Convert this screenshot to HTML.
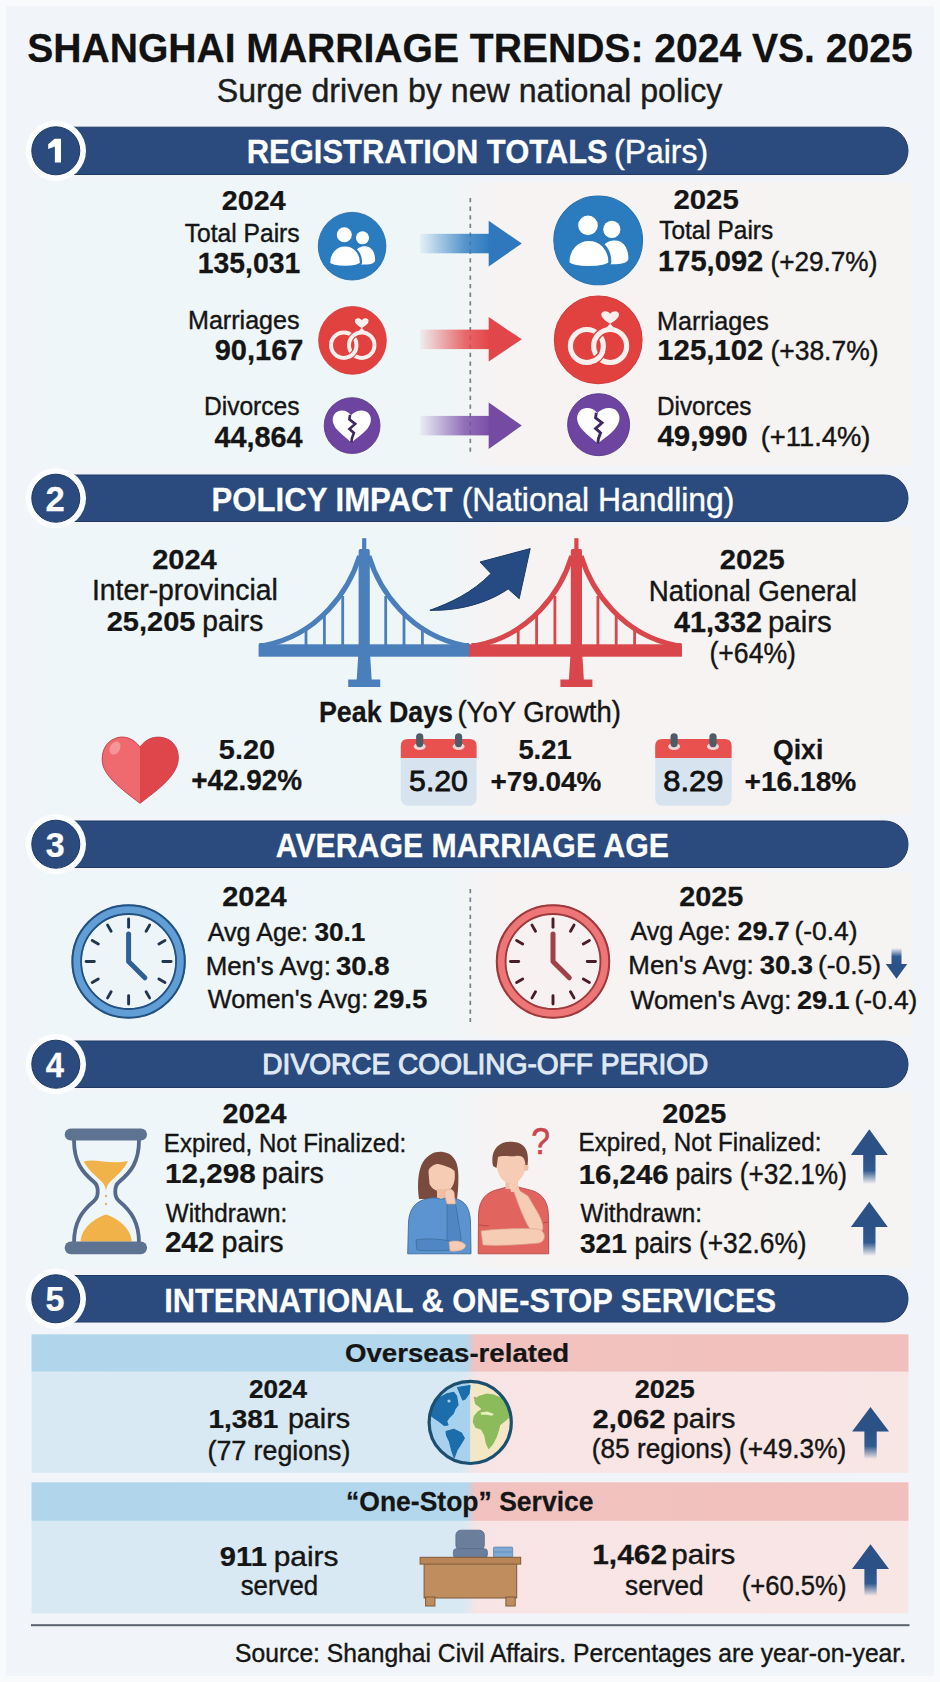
<!DOCTYPE html>
<html><head><meta charset="utf-8"><title>Shanghai Marriage Trends 2024 vs 2025</title>
<style>
html,body{margin:0;padding:0;background:#f1f5f8;}
body{width:940px;height:1682px;overflow:hidden;font-family:"Liberation Sans",sans-serif;}
svg{display:block;}
svg text{font-family:"Liberation Sans",sans-serif;white-space:pre;}
</style></head><body>
<svg width="940" height="1682" viewBox="0 0 940 1682">
<rect x="0" y="0" width="940" height="1682" fill="#f8fafc"/>
<rect x="6" y="6" width="928" height="1670" fill="#f1f5f9"/>
<defs>
<linearGradient id="pg" x1="0" x2="1" y1="0" y2="0">
 <stop offset="0" stop-color="#eef6f9"/><stop offset="0.47" stop-color="#eff6f8"/>
 <stop offset="0.53" stop-color="#f7f3f3"/><stop offset="1" stop-color="#f6f3f3"/>
</linearGradient>
<linearGradient id="ag1" x1="0" x2="1" y1="0" y2="0">
 <stop offset="0" stop-color="#2f7cc0" stop-opacity="0.05"/><stop offset="0.3" stop-color="#2f7cc0" stop-opacity="0.4"/><stop offset="0.65" stop-color="#2f7cc0" stop-opacity="0.8"/><stop offset="1" stop-color="#2f7cc0"/>
</linearGradient>
<linearGradient id="ag2" x1="0" x2="1" y1="0" y2="0">
 <stop offset="0" stop-color="#e4474a" stop-opacity="0.05"/><stop offset="0.3" stop-color="#e4474a" stop-opacity="0.4"/><stop offset="0.65" stop-color="#e4474a" stop-opacity="0.8"/><stop offset="1" stop-color="#e4474a"/>
</linearGradient>
<linearGradient id="ag3" x1="0" x2="1" y1="0" y2="0">
 <stop offset="0" stop-color="#7a4ea8" stop-opacity="0.05"/><stop offset="0.3" stop-color="#7a4ea8" stop-opacity="0.4"/><stop offset="0.65" stop-color="#7a4ea8" stop-opacity="0.8"/><stop offset="1" stop-color="#7a4ea8"/>
</linearGradient>
<linearGradient id="upg" x1="0" x2="0" y1="0" y2="1">
 <stop offset="0" stop-color="#2b5187"/><stop offset="0.55" stop-color="#2f5a92"/><stop offset="1" stop-color="#2f5a92" stop-opacity="0"/>
</linearGradient>
<linearGradient id="dng" x1="0" x2="0" y1="1" y2="0">
 <stop offset="0" stop-color="#2b5187"/><stop offset="0.5" stop-color="#2f5a92"/><stop offset="1" stop-color="#2f5a92" stop-opacity="0"/>
</linearGradient>
<linearGradient id="hdr" x1="0" x2="1" y1="0" y2="0">
 <stop offset="0" stop-color="#b1d6ec"/><stop offset="0.496" stop-color="#b3d7ec"/>
 <stop offset="0.506" stop-color="#f1c2bf"/><stop offset="1" stop-color="#f1c0bd"/>
</linearGradient>
<linearGradient id="bdy" x1="0" x2="1" y1="0" y2="0">
 <stop offset="0" stop-color="#d8e9f4"/><stop offset="0.492" stop-color="#d9e9f4"/>
 <stop offset="0.508" stop-color="#f8e4e4"/><stop offset="1" stop-color="#f8e6e5"/>
</linearGradient>
</defs>
<rect x="34" y="182" width="878" height="284" rx="6" fill="url(#pg)"/>
<rect x="34" y="526" width="878" height="289" rx="6" fill="url(#pg)"/>
<rect x="34" y="872" width="878" height="164" rx="6" fill="url(#pg)"/>
<rect x="34" y="1092" width="878" height="176" rx="6" fill="url(#pg)"/>
<path d="M56 127.20 L884.35 127.20 A23.65 23.65 0 0 1 884.35 174.50 L56 174.50 Z" fill="#2b4b7e" stroke="#1f3963" stroke-width="1"/>
<circle cx="55.8" cy="150.8" r="30.2" fill="#fbfdfe"/>
<circle cx="55.8" cy="150.8" r="24" fill="#2b4b7e" stroke="#1f3963" stroke-width="1"/>
<path d="M56 475.00 L884.75 475.00 A23.25 23.25 0 0 1 884.75 521.50 L56 521.50 Z" fill="#2b4b7e" stroke="#1f3963" stroke-width="1"/>
<circle cx="55.8" cy="498.2" r="30.2" fill="#fbfdfe"/>
<circle cx="55.8" cy="498.2" r="24" fill="#2b4b7e" stroke="#1f3963" stroke-width="1"/>
<path d="M56 821.00 L884.75 821.00 A23.25 23.25 0 0 1 884.75 867.50 L56 867.50 Z" fill="#2b4b7e" stroke="#1f3963" stroke-width="1"/>
<circle cx="55.8" cy="844.2" r="30.2" fill="#fbfdfe"/>
<circle cx="55.8" cy="844.2" r="24" fill="#2b4b7e" stroke="#1f3963" stroke-width="1"/>
<path d="M56 1041.00 L884.75 1041.00 A23.25 23.25 0 0 1 884.75 1087.50 L56 1087.50 Z" fill="#2b4b7e" stroke="#1f3963" stroke-width="1"/>
<circle cx="55.8" cy="1064.2" r="30.2" fill="#fbfdfe"/>
<circle cx="55.8" cy="1064.2" r="24" fill="#2b4b7e" stroke="#1f3963" stroke-width="1"/>
<path d="M56 1275.50 L884.75 1275.50 A23.25 23.25 0 0 1 884.75 1322.00 L56 1322.00 Z" fill="#2b4b7e" stroke="#1f3963" stroke-width="1"/>
<circle cx="55.8" cy="1298.8" r="30.2" fill="#fbfdfe"/>
<circle cx="55.8" cy="1298.8" r="24" fill="#2b4b7e" stroke="#1f3963" stroke-width="1"/>
<path d="M54.6 138.8 L61 138.8 L61 162.5 L54.9 162.5 L54.9 146.6 L48.2 149 L48.2 144.2 Z" fill="#ffffff"/>
<line x1="470.3" y1="198" x2="470.3" y2="452" stroke="#76838f" stroke-width="1.7" stroke-dasharray="4.3 4.3"/>
<rect x="420.0" y="233.8" width="69.2" height="19.5" fill="url(#ag1)"/>
<path d="M488.7 220.8 L521.8 243.6 L488.7 266.4 Z" fill="#2f78bd"/>
<rect x="420.0" y="329.6" width="69.2" height="19.5" fill="url(#ag2)"/>
<path d="M488.7 317.1 L521.8 339.3 L488.7 361.6 Z" fill="#e0464a"/>
<rect x="420.0" y="415.9" width="69.2" height="19.5" fill="url(#ag3)"/>
<path d="M488.7 402.4 L521.8 425.6 L488.7 448.9 Z" fill="#744aa3"/>
<defs>
<g id="ppl">
 <circle cx="0" cy="0" r="49.5" fill="#2b7bbf" stroke="#256fae" stroke-width="1.2"/>
 <circle cx="15.2" cy="-12.3" r="9.6" fill="#fff"/>
 <path d="M4 26.6 L4 8 C8 2 13 0 19 0 C27.5 0 33.7 8 33.7 20 C33.7 24.5 27 26.6 20 26.6 Z" fill="#fff"/>
 <path d="M-33.7 24 C-33.7 9 -23 -1.1 -10.3 -1.1 C2.4 -1.1 13 9 13 24 C13 28 1 30.4 -10.3 30.4 C-21.6 30.4 -33.7 28 -33.7 24 Z" fill="#fff" stroke="#2b7bbf" stroke-width="3.4"/>
 <circle cx="-11.4" cy="-16.8" r="12.5" fill="#fff" stroke="#2b7bbf" stroke-width="3"/>
</g>
<g id="rings">
 <circle cx="0" cy="0" r="49.5" fill="#e2423f" stroke="#d03a3a" stroke-width="1.2"/>
 <circle cx="-12.8" cy="7" r="18.6" fill="none" stroke="#fbf0ee" stroke-width="5.8"/>
 <circle cx="13.5" cy="7" r="18.6" fill="none" stroke="#e2423f" stroke-width="9"/>
 <circle cx="13.5" cy="7" r="18.6" fill="none" stroke="#fbf0ee" stroke-width="5.8"/>
 <path d="M4.68 13.36 A18.6 18.6 0 0 1 -7.99 24.97" fill="none" stroke="#e2423f" stroke-width="9"/>
 <path d="M5.2 13.0 A18.6 18.6 0 0 1 -8.4 24.9" fill="none" stroke="#fbf0ee" stroke-width="5.8"/>
 <path d="M9.5 -14 L13.5 -18.5 L17.5 -14 L13.5 -10 Z" fill="#fbf0ee"/>
 <path d="M13.5 -18 C9 -21 3.5 -24.5 3.5 -28.5 C3.5 -32.5 9.5 -34 13.5 -29.5 C17.5 -34 23.5 -32.5 23.5 -28.5 C23.5 -24.5 18 -21 13.5 -18 Z" fill="#fbf0ee"/>
</g>
<g id="bheart">
 <circle cx="0" cy="0" r="49.5" fill="#6d45a1" stroke="#5a3889" stroke-width="1.5"/>
 <path d="M-2 -18.5 C-8 -27 -22 -30 -30 -22 C-38 -13 -34 -1 -26 8 C-18 17 -8 23 -1.4 30.5 C6 23 17 17 25 8 C33 -1 37 -13 29 -22 C21 -30 6 -27 -2 -18.5 Z" fill="#fff"/>
 <path d="M-3.7 -19 L-4.8 -11 L5.5 -3 L-4.8 6 L3.2 13 L-0.2 22 L-1.4 30.5" fill="none" stroke="#3e2a63" stroke-width="4.6" stroke-linejoin="miter"/>
</g>
</defs>
<use href="#ppl" transform="translate(352.1 246.2) scale(0.6840)"/>
<use href="#rings" transform="translate(352.5 340.4) scale(0.6840)"/>
<use href="#bheart" transform="translate(352.1 425.6) scale(0.5640)"/>
<use href="#ppl" transform="translate(598.2 240.4) scale(0.8960)"/>
<use href="#rings" transform="translate(598.2 339.8) scale(0.8860)"/>
<use href="#bheart" transform="translate(598.6 424.7) scale(0.6260)"/>
<g><rect x="258.6" y="644.3" width="211.6" height="12.4" fill="#4a7fbb"/><rect x="341.3" y="596.0" width="2.8" height="49.0" fill="#4a7fbb"/><rect x="384.3" y="596.0" width="2.8" height="49.0" fill="#4a7fbb"/><rect x="323.0" y="612.5" width="2.8" height="32.5" fill="#4a7fbb"/><rect x="402.6" y="612.5" width="2.8" height="32.5" fill="#4a7fbb"/><rect x="304.6" y="626.5" width="2.8" height="18.5" fill="#4a7fbb"/><rect x="421.0" y="626.5" width="2.8" height="18.5" fill="#4a7fbb"/><path d="M359.5 556 C349.2 590 319.2 635 264.2 645.5 L259.2 645.5" fill="none" stroke="#4a7fbb" stroke-width="5"/><path d="M368.9 556 C379.2 590 409.2 635 464.2 645.5 L469.2 645.5" fill="none" stroke="#4a7fbb" stroke-width="5"/><rect x="362.1" y="538.2" width="4.2" height="14" fill="#4a7fbb"/><path d="M358.6 552 Q358.6 549 360.2 549 L368.2 549 Q369.8 549 369.8 552 L369.8 657 L358.6 657 Z" fill="#4a7fbb"/><path d="M358.2 656 L370.2 656 L371.7 680 L356.7 680 Z" fill="#4a7fbb"/><rect x="348.2" y="679.5" width="32" height="7.5" fill="#4a7fbb"/></g>
<g><rect x="469.2" y="644.3" width="212.8" height="12.4" fill="#d9464b"/><rect x="553.5" y="596.0" width="2.8" height="49.0" fill="#d9464b"/><rect x="596.5" y="596.0" width="2.8" height="49.0" fill="#d9464b"/><rect x="535.2" y="612.5" width="2.8" height="32.5" fill="#d9464b"/><rect x="614.8" y="612.5" width="2.8" height="32.5" fill="#d9464b"/><rect x="516.8" y="626.5" width="2.8" height="18.5" fill="#d9464b"/><rect x="633.2" y="626.5" width="2.8" height="18.5" fill="#d9464b"/><path d="M571.7 556 C561.4 590 531.4 635 476.4 645.5 L471.4 645.5" fill="none" stroke="#d9464b" stroke-width="5"/><path d="M581.1 556 C591.4 590 621.4 635 676.4 645.5 L681.4 645.5" fill="none" stroke="#d9464b" stroke-width="5"/><rect x="574.3" y="538.2" width="4.2" height="14" fill="#d9464b"/><path d="M570.8 552 Q570.8 549 572.4 549 L580.4 549 Q582.0 549 582.0 552 L582.0 657 L570.8 657 Z" fill="#d9464b"/><path d="M570.4 656 L582.4 656 L583.9 680 L568.9 680 Z" fill="#d9464b"/><rect x="560.4" y="679.5" width="32" height="7.5" fill="#d9464b"/></g>
<path d="M429.9 610.3 C450 603 472 593 491 573.6 L480 562 L530.2 548.6 L519.2 598.7 L508.2 588.9 C492 600 465 611 429.9 610.3 Z" fill="#254b82" stroke="#1c3a66" stroke-width="1"/>
<path d="M140 747 C133 738 125 736 118 737.5 C108 740 102 748 102.2 760 C102.5 775 120 788 140 803.3 L140 747 Z" fill="#ef6a6f"/>
<path d="M140 747 C147 738 155 736.5 161 737.3 C171 738.5 178.5 746 178.3 758 C178 775 160 788 140 803.3 Z" fill="#de464c"/>
<path d="M140 747 C133 738 125 736 118 737.5 C108 740 102 748 102.2 760 C102.5 775 120 788 140 803.3 C160 788 178 775 178.3 758 C178.5 746 171 738.5 161 737.3 C153 736.5 146 739 140 747 Z" fill="none" stroke="#c8424a" stroke-width="1"/>
<ellipse cx="115" cy="748" rx="5" ry="7" transform="rotate(30 115 748)" fill="#f6a0a2" opacity="0.8"/>
<g><rect x="400.8" y="739" width="75.8" height="66.7" rx="7" fill="#d7e3ee"/><path d="M400.8 758 L400.8 746 Q400.8 739 407.8 739 L469.6 739 Q476.6 739 476.6 746 L476.6 758 Z" fill="#e9514f"/><ellipse cx="419.7" cy="746.5" rx="6" ry="3.5" fill="#f2d6d4"/><rect x="416.1" y="733.2" width="7.2" height="14" rx="3.6" fill="#505b68"/><ellipse cx="458.6" cy="746.5" rx="6" ry="3.5" fill="#f2d6d4"/><rect x="455.0" y="733.2" width="7.2" height="14" rx="3.6" fill="#505b68"/></g>
<g><rect x="655.2" y="739" width="76.4" height="66.7" rx="7" fill="#d7e3ee"/><path d="M655.2 758 L655.2 746 Q655.2 739 662.2 739 L724.6 739 Q731.6 739 731.6 746 L731.6 758 Z" fill="#e9514f"/><ellipse cx="674.1" cy="746.5" rx="6" ry="3.5" fill="#f2d6d4"/><rect x="670.5" y="733.2" width="7.2" height="14" rx="3.6" fill="#505b68"/><ellipse cx="713.0" cy="746.5" rx="6" ry="3.5" fill="#f2d6d4"/><rect x="709.4" y="733.2" width="7.2" height="14" rx="3.6" fill="#505b68"/></g>
<line x1="470.3" y1="889" x2="470.3" y2="1022" stroke="#76838f" stroke-width="1.7" stroke-dasharray="4.3 4.3"/>
<g><circle cx="128.6" cy="961.5" r="51.9" fill="#eef5f9" stroke="#629ed6" stroke-width="10.4"/><circle cx="128.6" cy="961.5" r="56.2" fill="none" stroke="#23507f" stroke-width="2"/><circle cx="128.6" cy="961.5" r="47.5" fill="none" stroke="#23507f" stroke-width="1.8"/><line x1="128.60" y1="927.20" x2="128.60" y2="919.00" stroke="#1f3550" stroke-width="2.9" stroke-linecap="round"/><line x1="146.10" y1="931.19" x2="149.60" y2="925.13" stroke="#1f3550" stroke-width="2.9" stroke-linecap="round"/><line x1="158.91" y1="944.00" x2="164.97" y2="940.50" stroke="#1f3550" stroke-width="2.9" stroke-linecap="round"/><line x1="162.90" y1="961.50" x2="171.10" y2="961.50" stroke="#1f3550" stroke-width="2.9" stroke-linecap="round"/><line x1="158.91" y1="979.00" x2="164.97" y2="982.50" stroke="#1f3550" stroke-width="2.9" stroke-linecap="round"/><line x1="146.10" y1="991.81" x2="149.60" y2="997.87" stroke="#1f3550" stroke-width="2.9" stroke-linecap="round"/><line x1="128.60" y1="995.80" x2="128.60" y2="1004.00" stroke="#1f3550" stroke-width="2.9" stroke-linecap="round"/><line x1="111.10" y1="991.81" x2="107.60" y2="997.87" stroke="#1f3550" stroke-width="2.9" stroke-linecap="round"/><line x1="98.29" y1="979.00" x2="92.23" y2="982.50" stroke="#1f3550" stroke-width="2.9" stroke-linecap="round"/><line x1="94.30" y1="961.50" x2="86.10" y2="961.50" stroke="#1f3550" stroke-width="2.9" stroke-linecap="round"/><line x1="98.29" y1="944.00" x2="92.23" y2="940.50" stroke="#1f3550" stroke-width="2.9" stroke-linecap="round"/><line x1="111.10" y1="931.19" x2="107.60" y2="925.13" stroke="#1f3550" stroke-width="2.9" stroke-linecap="round"/><path d="M128.6 934.0 L128.6 961.5 L144.9 977.8" fill="none" stroke="#2f5f94" stroke-width="5" stroke-linecap="round" stroke-linejoin="round"/></g>
<g><circle cx="553.0" cy="961.5" r="51.9" fill="#f7f1f2" stroke="#ee7676" stroke-width="10.4"/><circle cx="553.0" cy="961.5" r="56.2" fill="none" stroke="#9c3a3c" stroke-width="2"/><circle cx="553.0" cy="961.5" r="47.5" fill="none" stroke="#9c3a3c" stroke-width="1.8"/><line x1="553.00" y1="927.20" x2="553.00" y2="919.00" stroke="#4a1c28" stroke-width="2.9" stroke-linecap="round"/><line x1="570.50" y1="931.19" x2="574.00" y2="925.13" stroke="#4a1c28" stroke-width="2.9" stroke-linecap="round"/><line x1="583.31" y1="944.00" x2="589.37" y2="940.50" stroke="#4a1c28" stroke-width="2.9" stroke-linecap="round"/><line x1="587.30" y1="961.50" x2="595.50" y2="961.50" stroke="#4a1c28" stroke-width="2.9" stroke-linecap="round"/><line x1="583.31" y1="979.00" x2="589.37" y2="982.50" stroke="#4a1c28" stroke-width="2.9" stroke-linecap="round"/><line x1="570.50" y1="991.81" x2="574.00" y2="997.87" stroke="#4a1c28" stroke-width="2.9" stroke-linecap="round"/><line x1="553.00" y1="995.80" x2="553.00" y2="1004.00" stroke="#4a1c28" stroke-width="2.9" stroke-linecap="round"/><line x1="535.50" y1="991.81" x2="532.00" y2="997.87" stroke="#4a1c28" stroke-width="2.9" stroke-linecap="round"/><line x1="522.69" y1="979.00" x2="516.63" y2="982.50" stroke="#4a1c28" stroke-width="2.9" stroke-linecap="round"/><line x1="518.70" y1="961.50" x2="510.50" y2="961.50" stroke="#4a1c28" stroke-width="2.9" stroke-linecap="round"/><line x1="522.69" y1="944.00" x2="516.63" y2="940.50" stroke="#4a1c28" stroke-width="2.9" stroke-linecap="round"/><line x1="535.50" y1="931.19" x2="532.00" y2="925.13" stroke="#4a1c28" stroke-width="2.9" stroke-linecap="round"/><path d="M553.0 934.0 L553.0 961.5 L569.3 977.8" fill="none" stroke="#a0414a" stroke-width="5" stroke-linecap="round" stroke-linejoin="round"/></g>
<rect x="891.5" y="948" width="10" height="17" fill="url(#dng)"/>
<path d="M885.8 964 L907.2 964 L896.5 978.8 Z" fill="#2b5187"/>
<path d="M74 1140 C74 1162 82 1172 94 1182 C99 1186 99 1197 94 1201 C82 1211 74 1222 74 1243 M139 1140 C139 1162 131 1172 119 1182 C114 1186 114 1197 119 1201 C131 1211 139 1222 139 1243" fill="none" stroke="#56698a" stroke-width="3.8"/>
<path d="M83.8 1161.5 C95 1158 110 1165 127.9 1161 C124 1170 116 1176 110 1182 C107 1185 106.5 1188 106 1191 C105.5 1188 105 1185 102 1182 C96 1176 88 1170 83.8 1161.5 Z" fill="#f1b24a"/>
<path d="M80.6 1241.5 C81 1228 95 1218 106 1214.5 C117 1218 131 1228 131.7 1241.5 Z" fill="#f1b24a"/>
<circle cx="106" cy="1196" r="1.2" fill="#e0b070"/><circle cx="106" cy="1204" r="1.2" fill="#e0b070"/>
<rect x="64.7" y="1128.4" width="82.3" height="12.1" rx="6" fill="#5e7391"/>
<rect x="64.7" y="1241.4" width="82.3" height="12.8" rx="6.2" fill="#5e7391"/>
<path d="M419 1199 C417 1185 418 1170 423 1162 C428 1154 436 1151 443 1152 C452 1153 457 1160 458 1170 C459 1180 458 1192 457 1199 Z" fill="#7a4a3d"/>
<path d="M428.5 1172 C429 1165 434 1163 440 1164.5 C446 1166 452 1168 454.5 1171 C456 1180 453 1189 447 1191.5 C440 1193 432 1190 429.5 1184 Z" fill="#f6ccb4"/>
<path d="M428 1170 C432 1164 442 1161 450 1163 C446 1158 436 1157 430 1162 Z" fill="#7a4a3d"/>
<rect x="437" y="1189" width="9" height="10" fill="#f0c0a6"/>
<path d="M407.7 1253.8 L408.5 1222 C409.5 1208 416 1201 428 1198.5 C433 1197.5 437 1197.5 441 1199.5 C445 1197.5 450 1197.5 455 1198.5 C466 1201 470 1209 470.5 1222 L471 1253.8 Z" fill="#5b94d1" stroke="#3d6d9e" stroke-width="0.9"/>
<path d="M447 1203 L455.5 1203 L461 1238 C461 1244 456 1247 451 1245 L447 1240 Z" fill="#4f87c4" stroke="#3d6d9e" stroke-width="0.8"/>
<path d="M444 1193 C446 1188 452 1188 454 1192 L455.5 1204 L447 1204 Z" fill="#f6ccb4" stroke="#d8a58c" stroke-width="0.6"/>
<path d="M416 1240 C425 1238 440 1239 450 1241 L451 1250 C440 1251 425 1251 417 1250 Z" fill="#4f87c4" stroke="#3d6d9e" stroke-width="0.8"/>
<path d="M449 1242 C454 1240 463 1241 465.5 1245 C466 1249 460 1252 450 1251 Z" fill="#f6ccb4" stroke="#d8a58c" stroke-width="0.6"/>
<path d="M478.2 1253.8 L478.5 1215 C479 1200 486 1192 498 1189.5 L507 1187 L518 1187 L528 1189.5 C541 1192 548 1200 548.4 1215 L548.7 1253.8 Z" fill="#e1645f" stroke="#b6474b" stroke-width="0.9"/>
<path d="M479 1225 L489 1226 M548 1222 L538 1224" stroke="#b6474b" stroke-width="0.9" fill="none"/>
<rect x="505.5" y="1178" width="12.5" height="11" fill="#f0c0a6"/>
<path d="M496.5 1162 C496.5 1154 502 1150 511 1150 C520 1150 526 1154 526 1163 C526 1175 519 1183.5 511 1183.5 C503 1183.5 496.5 1175 496.5 1162 Z" fill="#f6ccb4"/>
<ellipse cx="526" cy="1167" rx="2.5" ry="4" fill="#f0c0a6"/>
<path d="M493 1166 C490 1152 497 1141.7 510 1141.7 C522 1141.7 530 1147 527.5 1165 L525.5 1165 C525 1158 522 1155 516 1156 C510 1157 503 1155 498 1157 L496.5 1168 Z" fill="#7a4a3d"/>
<path d="M512 1186 C515 1195 520 1210 527 1224 C531 1232 538 1236 542 1231 C545 1226 540 1216 535 1208 L528 1196 Z" fill="#f6ccb4" stroke="#d8a58c" stroke-width="0.7"/>
<path d="M509 1184 C511 1180 516 1180 518 1184 L520 1192 L511 1192 Z" fill="#f6ccb4"/>
<path d="M481 1231 C495 1229 520 1228 537 1229 C546 1230 547 1241 539 1243 C520 1245 498 1246 483 1245 Z" fill="#f6ccb4" stroke="#d8a58c" stroke-width="0.7"/>
<rect x="863.2" y="1154.0" width="12.3" height="30.0" fill="url(#upg)"/>
<path d="M850.9 1155.0 L869.3 1129.3 L887.8 1155.0 Z" fill="#2b5187"/>
<rect x="863.2" y="1226.0" width="12.3" height="30.0" fill="url(#upg)"/>
<path d="M850.9 1227.0 L869.3 1201.7 L887.8 1227.0 Z" fill="#2b5187"/>
<rect x="31.5" y="1334.3" width="877" height="37.5" fill="url(#hdr)"/>
<rect x="31.5" y="1371.8" width="877" height="101" fill="url(#bdy)"/>
<rect x="31.5" y="1482.3" width="877" height="38.6" fill="url(#hdr)"/>
<rect x="31.5" y="1520.9" width="877" height="92.6" fill="url(#bdy)"/>
<rect x="31" y="1624.2" width="878.5" height="2" fill="#59626d"/>
<defs><clipPath id="gcl"><circle cx="470.2" cy="1422.4" r="41"/></clipPath></defs>
<g clip-path="url(#gcl)">
 <rect x="428" y="1380" width="42.4" height="85" fill="#a7d1ec"/>
 <rect x="470.4" y="1380" width="43" height="85" fill="#f3e7c6"/>
 <g fill="#1b6dab" stroke="#1b6dab" stroke-width="1.2" stroke-linejoin="round">
 <path d="M430.7 1415.3 L432.2 1408.6 L435.5 1402.9 L439.4 1398.1 L447.0 1393.8 L453.7 1392.3 L456.6 1396.2 L458.0 1404.8 L455.2 1408.6 L453.3 1413.4 L449.4 1417.2 L446.6 1421.1 L448.0 1424.9 L444.2 1425.4 L439.4 1421.5 L434.6 1418.2 Z"/>
 <path d="M457.6 1387.5 L470.0 1385.6 L469.1 1393.3 L465.2 1399.0 L462.8 1400.0 L460.4 1394.2 Z"/>
 <path d="M446.1 1431.6 L453.7 1429.2 L461.4 1433.0 L464.3 1438.3 L460.9 1444.0 L457.1 1449.8 L454.2 1457.5 L451.8 1450.8 L449.4 1441.2 L446.6 1435.4 Z"/>
 </g>
 <circle cx="449" cy="1401" r="1.6" fill="#a7d1ec"/>
 <g fill="#8bbb5a" stroke="#8bbb5a" stroke-width="1.2" stroke-linejoin="round">
 <path d="M478.6 1396.6 L486.3 1394.2 L494.0 1395.2 L501.6 1398.6 L506.9 1405.7 L508.8 1417.2 L504.5 1421.1 L499.7 1424.9 L498.3 1430.6 L496.4 1436.4 L492.5 1444.0 L488.7 1448.4 L486.3 1443.1 L484.9 1435.4 L481.5 1429.2 L475.8 1427.3 L473.4 1422.0 L474.3 1416.3 L478.2 1412.0 L482.5 1409.1 L479.1 1406.2 L475.8 1403.8 L474.8 1400.0 Z"/>
 </g>
 <path d="M480.6 1412.4 L487.3 1411.5 L494.0 1413.9 L492.0 1415.8 L486.3 1414.8 L481.0 1414.8 Z" fill="#e8efc0"/>
 <circle cx="475" cy="1398" r="1.3" fill="#b59a6a"/>
</g>
<circle cx="470.2" cy="1422.4" r="41.1" fill="none" stroke="#1b4f70" stroke-width="3.2"/>
<rect x="864.4" y="1430.4" width="12.3" height="28.6" fill="url(#upg)"/>
<path d="M852.1 1431.4 L870.5 1406.9 L889.0 1431.4 Z" fill="#2b5187"/>
<rect x="455.9" y="1530.2" width="28.4" height="20" rx="5" fill="#6b7f9c" stroke="#55688a" stroke-width="0.8"/>
<rect x="453.4" y="1548.7" width="34" height="9" rx="3" fill="#6b7f9c" stroke="#55688a" stroke-width="0.8"/>
<rect x="493.5" y="1547.1" width="19.2" height="10.2" rx="1" fill="#7fa8d2" stroke="#5e86b0" stroke-width="0.8"/>
<line x1="494" y1="1552" x2="512" y2="1552" stroke="#5e86b0" stroke-width="0.8"/>
<rect x="424.1" y="1563" width="92.6" height="35" fill="#c08d5e" stroke="#7d5a3a" stroke-width="1"/>
<rect x="425.6" y="1597" width="9.3" height="9" fill="#c08d5e" stroke="#7d5a3a" stroke-width="1"/>
<rect x="505.9" y="1597" width="9.3" height="9" fill="#c08d5e" stroke="#7d5a3a" stroke-width="1"/>
<rect x="420.1" y="1557.3" width="100.6" height="6.8" fill="#b98557" stroke="#7d5a3a" stroke-width="1"/>
<rect x="864.4" y="1567.9" width="12.3" height="28.1" fill="url(#upg)"/>
<path d="M852.0 1568.9 L870.5 1544.3 L889.0 1568.9 Z" fill="#2b5187"/>
<text transform="translate(27.22 61.50) scale(0.9431 1)" font-size="41.43" fill="#121212" stroke="#121212" stroke-width="0.25"><tspan font-weight="bold">SHANGHAI MARRIAGE TRENDS: 2024 VS. 2025</tspan></text>
<text transform="translate(216.71 101.70) scale(0.9860 1)" font-size="32.61" fill="#1c1c1c" stroke="#1c1c1c" stroke-width="0.40"><tspan>Surge driven by new national policy</tspan></text>
<text transform="translate(45.46 510.50) scale(1.0119 1)" font-size="34.29" fill="#ffffff" stroke="#ffffff" stroke-width="0.25"><tspan font-weight="bold">2</tspan></text>
<text transform="translate(45.82 856.80) scale(0.9917 1)" font-size="34.29" fill="#ffffff" stroke="#ffffff" stroke-width="0.25"><tspan font-weight="bold">3</tspan></text>
<text transform="translate(45.67 1077.30) scale(0.9545 1)" font-size="34.29" fill="#ffffff" stroke="#ffffff" stroke-width="0.25"><tspan font-weight="bold">4</tspan></text>
<text transform="translate(45.48 1311.30) scale(0.9917 1)" font-size="34.29" fill="#ffffff" stroke="#ffffff" stroke-width="0.25"><tspan font-weight="bold">5</tspan></text>
<text transform="translate(246.74 163.00) scale(0.9423 1)" font-size="32.86" fill="#ffffff" stroke="#ffffff" stroke-width="0.25"><tspan font-weight="bold">REGISTRATION TOTALS</tspan></text>
<text transform="translate(614.08 163.00) scale(0.9579 1)" font-size="33.33" fill="#ffffff" stroke="#ffffff" stroke-width="0.40"><tspan>(Pairs)</tspan></text>
<text transform="translate(211.53 510.50) scale(0.9480 1)" font-size="32.86" fill="#ffffff" stroke="#ffffff" stroke-width="0.25"><tspan font-weight="bold">POLICY IMPACT</tspan></text>
<text transform="translate(461.69 510.50) scale(0.9561 1)" font-size="33.33" fill="#ffffff" stroke="#ffffff" stroke-width="0.40"><tspan>(National Handling)</tspan></text>
<text transform="translate(275.80 857.00) scale(0.9009 1)" font-size="33.57" fill="#ffffff" stroke="#ffffff" stroke-width="0.25"><tspan font-weight="bold">AVERAGE MARRIAGE AGE</tspan></text>
<text transform="translate(262.35 1073.50) scale(0.9541 1)" font-size="29.42" fill="#dfe8f3" stroke="#dfe8f3" stroke-width="1.05"><tspan>DIVORCE COOLING-OFF PERIOD</tspan></text>
<text transform="translate(164.15 1311.50) scale(0.9183 1)" font-size="33.57" fill="#ffffff" stroke="#ffffff" stroke-width="0.25"><tspan font-weight="bold">INTERNATIONAL &amp; ONE-STOP SERVICES</tspan></text>
<text transform="translate(221.84 209.50) scale(1.0131 1)" font-size="28.29" fill="#151515" stroke="#151515" stroke-width="0.25"><tspan font-weight="bold">2024</tspan></text>
<text transform="translate(184.71 242.20) scale(0.9282 1)" font-size="26.52" fill="#151515" stroke="#151515" stroke-width="0.40"><tspan>Total Pairs</tspan></text>
<text transform="translate(197.80 273.30) scale(0.9929 1)" font-size="28.57" fill="#151515" stroke="#151515" stroke-width="0.25"><tspan font-weight="bold">135,031</tspan></text>
<text transform="translate(187.99 328.80) scale(0.9470 1)" font-size="26.52" fill="#151515" stroke="#151515" stroke-width="0.40"><tspan>Marriages</tspan></text>
<text transform="translate(214.63 360.40) scale(1.0164 1)" font-size="28.57" fill="#151515" stroke="#151515" stroke-width="0.25"><tspan font-weight="bold">90,167</tspan></text>
<text transform="translate(203.93 414.70) scale(0.9277 1)" font-size="26.52" fill="#151515" stroke="#151515" stroke-width="0.40"><tspan>Divorces</tspan></text>
<text transform="translate(214.41 446.60) scale(1.0102 1)" font-size="28.57" fill="#151515" stroke="#151515" stroke-width="0.25"><tspan font-weight="bold">44,864</tspan></text>
<text transform="translate(673.42 208.60) scale(1.0545 1)" font-size="27.86" fill="#151515" stroke="#151515" stroke-width="0.25"><tspan font-weight="bold">2025</tspan></text>
<text transform="translate(659.21 239.20) scale(0.9209 1)" font-size="26.52" fill="#151515" stroke="#151515" stroke-width="0.40"><tspan>Total Pairs</tspan></text>
<text transform="translate(657.95 270.60) scale(1.0206 1)" font-size="28.57" fill="#151515" stroke="#151515" stroke-width="0.25"><tspan font-weight="bold">175,092</tspan></text>
<text transform="translate(770.43 270.60) scale(0.9508 1)" font-size="27.54" fill="#151515" stroke="#151515" stroke-width="0.40"><tspan>(+29.7%)</tspan></text>
<text transform="translate(656.99 329.50) scale(0.9479 1)" font-size="26.52" fill="#151515" stroke="#151515" stroke-width="0.40"><tspan>Marriages</tspan></text>
<text transform="translate(657.24 360.10) scale(1.0275 1)" font-size="28.57" fill="#151515" stroke="#151515" stroke-width="0.25"><tspan font-weight="bold">125,102</tspan></text>
<text transform="translate(770.41 360.10) scale(0.9617 1)" font-size="27.54" fill="#151515" stroke="#151515" stroke-width="0.40"><tspan>(+38.7%)</tspan></text>
<text transform="translate(657.06 415.00) scale(0.9158 1)" font-size="26.52" fill="#151515" stroke="#151515" stroke-width="0.40"><tspan>Divorces</tspan></text>
<text transform="translate(657.41 445.60) scale(1.0317 1)" font-size="28.57" fill="#151515" stroke="#151515" stroke-width="0.25"><tspan font-weight="bold">49,990</tspan></text>
<text transform="translate(760.66 445.60) scale(0.9940 1)" font-size="27.54" fill="#151515" stroke="#151515" stroke-width="0.40"><tspan>(+11.4%)</tspan></text>
<text transform="translate(152.13 568.60) scale(1.0276 1)" font-size="28.29" fill="#151515" stroke="#151515" stroke-width="0.25"><tspan font-weight="bold">2024</tspan></text>
<text transform="translate(91.95 600.20) scale(0.9780 1)" font-size="28.99" fill="#151515" stroke="#151515" stroke-width="0.40"><tspan>Inter-provincial</tspan></text>
<text transform="translate(106.73 631.10) scale(1.0153 1)" font-size="28.57" fill="#151515" stroke="#151515" stroke-width="0.25"><tspan font-weight="bold">25,205</tspan></text>
<text transform="translate(202.31 631.10) scale(0.9715 1)" font-size="28.99" fill="#151515" stroke="#151515" stroke-width="0.40"><tspan>pairs</tspan></text>
<text transform="translate(719.83 568.70) scale(1.0304 1)" font-size="28.29" fill="#151515" stroke="#151515" stroke-width="0.25"><tspan font-weight="bold">2025</tspan></text>
<text transform="translate(648.78 600.50) scale(0.9574 1)" font-size="28.99" fill="#151515" stroke="#151515" stroke-width="0.40"><tspan>National General</tspan></text>
<text transform="translate(674.01 632.30) scale(1.0085 1)" font-size="28.57" fill="#151515" stroke="#151515" stroke-width="0.25"><tspan font-weight="bold">41,332</tspan></text>
<text transform="translate(767.94 632.30) scale(1.0147 1)" font-size="28.99" fill="#151515" stroke="#151515" stroke-width="0.40"><tspan>pairs</tspan></text>
<text transform="translate(709.40 663.30) scale(0.9190 1)" font-size="28.99" fill="#151515" stroke="#151515" stroke-width="0.40"><tspan>(+64%)</tspan></text>
<text transform="translate(318.99 721.50) scale(0.9239 1)" font-size="29.00" fill="#151515" stroke="#151515" stroke-width="0.25"><tspan font-weight="bold">Peak Days</tspan></text>
<text transform="translate(457.45 721.50) scale(0.9345 1)" font-size="29.42" fill="#151515" stroke="#151515" stroke-width="0.40"><tspan>(YoY Growth)</tspan></text>
<text transform="translate(218.83 759.40) scale(1.0210 1)" font-size="28.29" fill="#151515" stroke="#151515" stroke-width="0.25"><tspan font-weight="bold">5.20</tspan></text>
<text transform="translate(191.18 790.00) scale(0.9768 1)" font-size="28.57" fill="#151515" stroke="#151515" stroke-width="0.25"><tspan font-weight="bold">+42.92%</tspan></text>
<text transform="translate(409.09 791.30) scale(1.0169 1)" font-size="29.71" fill="#111111" stroke="#111111" stroke-width="0.8"><tspan>5.20</tspan></text>
<text transform="translate(518.38 759.30) scale(0.9689 1)" font-size="28.29" fill="#151515" stroke="#151515" stroke-width="0.25"><tspan font-weight="bold">5.21</tspan></text>
<text transform="translate(490.38 791.10) scale(0.9777 1)" font-size="28.57" fill="#151515" stroke="#151515" stroke-width="0.25"><tspan font-weight="bold">+79.04%</tspan></text>
<text transform="translate(663.26 791.30) scale(1.0404 1)" font-size="29.71" fill="#111111" stroke="#111111" stroke-width="0.8"><tspan>8.29</tspan></text>
<text transform="translate(773.04 759.30) scale(0.9405 1)" font-size="28.29" fill="#151515" stroke="#151515" stroke-width="0.25"><tspan font-weight="bold">Qixi</tspan></text>
<text transform="translate(744.58 791.10) scale(0.9839 1)" font-size="28.57" fill="#151515" stroke="#151515" stroke-width="0.25"><tspan font-weight="bold">+16.18%</tspan></text>
<text transform="translate(222.13 905.60) scale(1.0260 1)" font-size="28.29" fill="#151515" stroke="#151515" stroke-width="0.25"><tspan font-weight="bold">2024</tspan></text>
<text transform="translate(207.70 940.90) scale(0.9651 1)" font-size="26.09" fill="#151515" stroke="#151515" stroke-width="0.40"><tspan>Avg Age: </tspan></text>
<text transform="translate(314.38 940.90) scale(1.0192 1)" font-size="25.71" fill="#151515" stroke="#151515" stroke-width="0.25"><tspan font-weight="bold">30.1</tspan></text>
<text transform="translate(205.63 974.60) scale(0.9913 1)" font-size="26.09" fill="#151515" stroke="#151515" stroke-width="0.40"><tspan>Men's Avg: </tspan></text>
<text transform="translate(336.05 974.60) scale(1.0704 1)" font-size="25.71" fill="#151515" stroke="#151515" stroke-width="0.25"><tspan font-weight="bold">30.8</tspan></text>
<text transform="translate(207.70 1008.30) scale(0.9737 1)" font-size="26.09" fill="#151515" stroke="#151515" stroke-width="0.40"><tspan>Women's Avg: </tspan></text>
<text transform="translate(373.57 1008.30) scale(1.0761 1)" font-size="25.71" fill="#151515" stroke="#151515" stroke-width="0.25"><tspan font-weight="bold">29.5</tspan></text>
<text transform="translate(679.13 905.80) scale(1.0206 1)" font-size="28.29" fill="#151515" stroke="#151515" stroke-width="0.25"><tspan font-weight="bold">2025</tspan></text>
<text transform="translate(630.40 939.90) scale(0.9660 1)" font-size="26.09" fill="#151515" stroke="#151515" stroke-width="0.40"><tspan>Avg Age: </tspan></text>
<text transform="translate(737.60 939.90) scale(1.0404 1)" font-size="25.71" fill="#151515" stroke="#151515" stroke-width="0.25"><tspan font-weight="bold">29.7</tspan></text>
<text transform="translate(794.41 939.90) scale(1.0138 1)" font-size="26.09" fill="#151515" stroke="#151515" stroke-width="0.40"><tspan>(-0.4)</tspan></text>
<text transform="translate(628.33 974.00) scale(0.9938 1)" font-size="26.09" fill="#151515" stroke="#151515" stroke-width="0.40"><tspan>Men's Avg: </tspan></text>
<text transform="translate(759.65 974.00) scale(1.0658 1)" font-size="25.71" fill="#151515" stroke="#151515" stroke-width="0.25"><tspan font-weight="bold">30.3</tspan></text>
<text transform="translate(817.92 974.00) scale(1.0122 1)" font-size="26.09" fill="#151515" stroke="#151515" stroke-width="0.40"><tspan>(-0.5)</tspan></text>
<text transform="translate(630.40 1008.70) scale(0.9755 1)" font-size="26.09" fill="#151515" stroke="#151515" stroke-width="0.40"><tspan>Women's Avg: </tspan></text>
<text transform="translate(796.99 1008.70) scale(1.0534 1)" font-size="25.71" fill="#151515" stroke="#151515" stroke-width="0.25"><tspan font-weight="bold">29.1</tspan></text>
<text transform="translate(854.42 1008.70) scale(1.0105 1)" font-size="26.09" fill="#151515" stroke="#151515" stroke-width="0.40"><tspan>(-0.4)</tspan></text>
<text transform="translate(531.15 1153.50) scale(0.9315 1)" font-size="36.23" fill="#c9464d" stroke="#c9464d" stroke-width="0.6"><tspan>?</tspan></text>
<text transform="translate(222.44 1123.00) scale(1.0163 1)" font-size="28.29" fill="#151515" stroke="#151515" stroke-width="0.25"><tspan font-weight="bold">2024</tspan></text>
<text transform="translate(163.87 1151.80) scale(0.9238 1)" font-size="26.09" fill="#151515" stroke="#151515" stroke-width="0.40"><tspan>Expired, Not Finalized:</tspan></text>
<text transform="translate(164.92 1183.40) scale(1.0385 1)" font-size="28.57" fill="#151515" stroke="#151515" stroke-width="0.25"><tspan font-weight="bold">12,298</tspan></text>
<text transform="translate(261.78 1183.40) scale(0.9881 1)" font-size="28.99" fill="#151515" stroke="#151515" stroke-width="0.40"><tspan>pairs</tspan></text>
<text transform="translate(165.80 1222.10) scale(0.9299 1)" font-size="26.09" fill="#151515" stroke="#151515" stroke-width="0.40"><tspan>Withdrawn:</tspan></text>
<text transform="translate(164.91 1252.30) scale(1.0354 1)" font-size="28.57" fill="#151515" stroke="#151515" stroke-width="0.25"><tspan font-weight="bold">242</tspan></text>
<text transform="translate(221.48 1252.30) scale(0.9881 1)" font-size="28.99" fill="#151515" stroke="#151515" stroke-width="0.40"><tspan>pairs</tspan></text>
<text transform="translate(662.14 1122.50) scale(1.0190 1)" font-size="28.29" fill="#151515" stroke="#151515" stroke-width="0.25"><tspan font-weight="bold">2025</tspan></text>
<text transform="translate(578.57 1151.40) scale(0.9254 1)" font-size="26.09" fill="#151515" stroke="#151515" stroke-width="0.40"><tspan>Expired, Not Finalized:</tspan></text>
<text transform="translate(578.74 1184.10) scale(1.0290 1)" font-size="28.57" fill="#151515" stroke="#151515" stroke-width="0.25"><tspan font-weight="bold">16,246</tspan></text>
<text transform="translate(675.42 1184.10) scale(0.9063 1)" font-size="28.99" fill="#151515" stroke="#151515" stroke-width="0.40"><tspan>pairs (+32.1%)</tspan></text>
<text transform="translate(580.50 1221.70) scale(0.9315 1)" font-size="26.09" fill="#151515" stroke="#151515" stroke-width="0.40"><tspan>Withdrawn:</tspan></text>
<text transform="translate(579.94 1253.30) scale(0.9859 1)" font-size="28.57" fill="#151515" stroke="#151515" stroke-width="0.25"><tspan font-weight="bold">321</tspan></text>
<text transform="translate(634.42 1253.30) scale(0.9101 1)" font-size="28.99" fill="#151515" stroke="#151515" stroke-width="0.40"><tspan>pairs (+32.6%)</tspan></text>
<text transform="translate(344.89 1362.30) scale(1.0405 1)" font-size="26.57" fill="#151515" stroke="#151515" stroke-width="0.25"><tspan font-weight="bold">Overseas-related</tspan></text>
<text transform="translate(346.04 1511.20) scale(0.9374 1)" font-size="28.29" fill="#151515" stroke="#151515" stroke-width="0.25"><tspan font-weight="bold">“One-Stop” Service</tspan></text>
<text transform="translate(248.92 1397.80) scale(1.0286 1)" font-size="25.43" fill="#151515" stroke="#151515" stroke-width="0.25"><tspan font-weight="bold">2024</tspan></text>
<text transform="translate(208.42 1428.40) scale(1.0586 1)" font-size="26.43" fill="#151515" stroke="#151515" stroke-width="0.25"><tspan font-weight="bold">1,381</tspan></text>
<text transform="translate(287.88 1428.40) scale(1.0718 1)" font-size="26.81" fill="#151515" stroke="#151515" stroke-width="0.40"><tspan>pairs</tspan></text>
<text transform="translate(207.49 1460.00) scale(0.9990 1)" font-size="26.81" fill="#151515" stroke="#151515" stroke-width="0.40"><tspan>(77 regions)</tspan></text>
<text transform="translate(634.69 1398.00) scale(1.0627 1)" font-size="25.43" fill="#151515" stroke="#151515" stroke-width="0.25"><tspan font-weight="bold">2025</tspan></text>
<text transform="translate(592.43 1427.90) scale(1.1027 1)" font-size="26.43" fill="#151515" stroke="#151515" stroke-width="0.25"><tspan font-weight="bold">2,062</tspan></text>
<text transform="translate(672.77 1427.90) scale(1.0772 1)" font-size="26.81" fill="#151515" stroke="#151515" stroke-width="0.40"><tspan>pairs</tspan></text>
<text transform="translate(591.72 1457.80) scale(0.9797 1)" font-size="26.81" fill="#151515" stroke="#151515" stroke-width="0.40"><tspan>(85 regions) (+49.3%)</tspan></text>
<text transform="translate(219.83 1565.60) scale(1.0466 1)" font-size="27.86" fill="#151515" stroke="#151515" stroke-width="0.25"><tspan font-weight="bold">911</tspan></text>
<text transform="translate(273.71 1565.60) scale(1.0560 1)" font-size="28.26" fill="#151515" stroke="#151515" stroke-width="0.40"><tspan>pairs</tspan></text>
<text transform="translate(240.68 1594.90) scale(0.9145 1)" font-size="28.26" fill="#151515" stroke="#151515" stroke-width="0.40"><tspan>served</tspan></text>
<text transform="translate(592.20 1564.30) scale(1.0741 1)" font-size="27.86" fill="#151515" stroke="#151515" stroke-width="0.25"><tspan font-weight="bold">1,462</tspan></text>
<text transform="translate(671.22 1564.30) scale(1.0475 1)" font-size="28.26" fill="#151515" stroke="#151515" stroke-width="0.40"><tspan>pairs</tspan></text>
<text transform="translate(625.08 1594.50) scale(0.9266 1)" font-size="28.26" fill="#151515" stroke="#151515" stroke-width="0.40"><tspan>served</tspan></text>
<text transform="translate(741.76 1594.50) scale(0.9068 1)" font-size="28.26" fill="#151515" stroke="#151515" stroke-width="0.40"><tspan>(+60.5%)</tspan></text>
<text transform="translate(235.01 1661.50) scale(0.9454 1)" font-size="26.09" fill="#151515" stroke="#151515" stroke-width="0.40"><tspan>Source: Shanghai Civil Affairs. Percentages are year-on-year.</tspan></text>
</svg>
</body></html>
